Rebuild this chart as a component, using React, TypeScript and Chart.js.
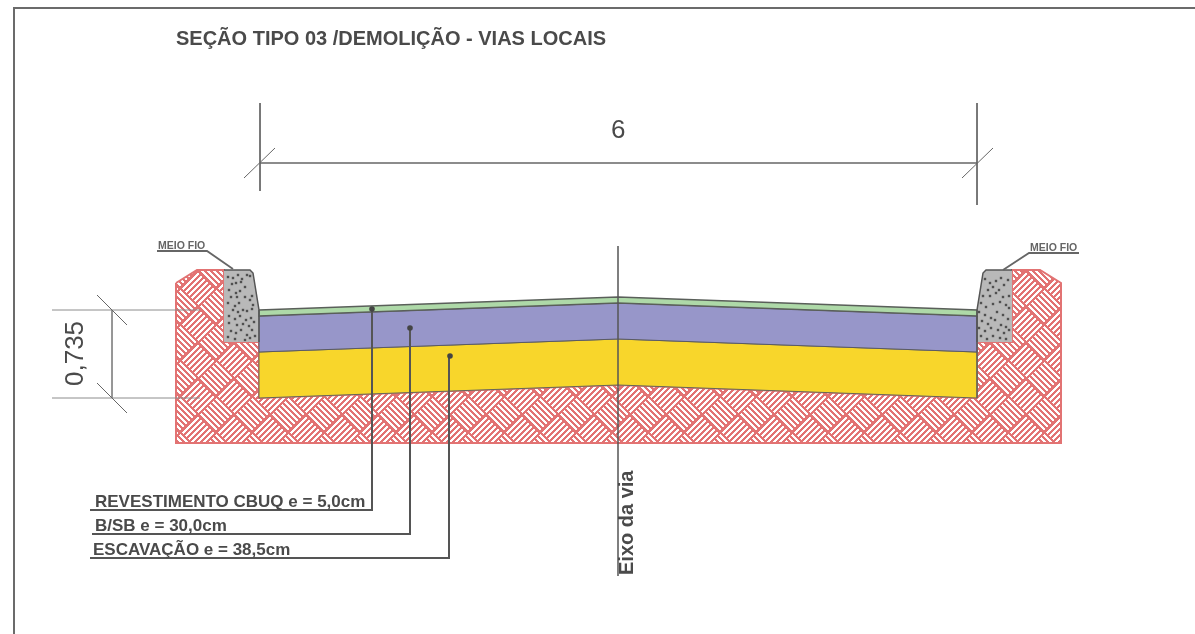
import React, { useEffect, useRef } from "react";
import { Chart, registerables } from "chart.js";

Chart.register(...registerables);

type P = number[];
const W = 1195;
const H = 634;

// outlines of the section (x list, y list)
const frameX: P = [14, 14, 1195];
const frameY: P = [634, 8, 8];
const soilX: P = [176, 197, 224, 224, 259, 259, 618, 977, 977, 1012, 1012, 1040, 1061, 1061, 176, 176];
const soilY: P = [283, 270, 270, 342, 342, 398, 385, 398, 342, 342, 270, 270, 283, 443, 443, 283];
const curbLeftX: P = [224, 250, 253, 259, 259, 224, 224];
const curbLeftY: P = [270, 270, 273, 310, 342, 342, 270];
const curbRightX: P = [1012, 986, 983, 977, 977, 1012, 1012];
const curbRightY: P = [270, 270, 273, 310, 342, 342, 270];
const layerX: P = [259, 618, 977, 977, 618, 259, 259];
const greenY: P = [310, 297, 310, 316, 303, 316, 310];
const purpleY: P = [316, 303, 316, 352, 339, 352, 316];
const yellowY: P = [352, 339, 352, 398, 385, 398, 352];

// concrete specks
const speckX: P = [228,233,238,242,247,250,232,236,241,245,229,236,240,231,237,245,252,228,235,239,243,250,253,233,238,247,252,229,235,240,246,251,229,237,243,249,254,231,236,241,247,252,228,235,245,250,255,
  985,990,996,1001,1008,988,993,999,1004,983,990,996,1003,1009,981,986,993,1000,1006,1009,979,985,991,997,1003,1008,982,988,995,1001,1006,979,985,991,998,1004,1009,981,987,993,1000,1006];
const speckY: P = [277,278,275,279,275,276,284,283,282,287,290,293,291,297,297,297,296,303,306,303,310,300,305,310,312,311,309,316,319,316,320,318,323,325,324,326,322,331,333,330,335,330,337,339,340,338,336,
  279,283,281,278,280,290,287,290,285,296,296,293,297,296,303,307,304,302,305,308,312,315,318,312,315,319,321,324,320,325,327,328,331,328,330,333,330,336,339,336,338,339];

// dimension lines
const dimTopX: P = [260, 977];
const dimTopY: P = [163, 163];
const extLeftX: P = [260, 260];
const extLeftY: P = [103, 191];
const extRightX: P = [977, 977];
const extRightY: P = [103, 205];
const tickTopLX: P = [244, 275];
const tickTopRX: P = [962, 993];
const tickTopY: P = [178, 148];
const dimSideX: P = [112, 112];
const dimSideY: P = [310, 398];
const extUpX: P = [52, 200];
const extUpY: P = [310, 310];
const extLowY: P = [398, 398];
const tickSideX: P = [97, 127];
const tickUpY: P = [295, 325];
const tickLowY: P = [383, 413];

// axis and leaders
const axisX: P = [618, 618];
const axisY: P = [246, 576];
const leaderAX: P = [372, 372, 90];
const leaderAY: P = [309, 510, 510];
const leaderBX: P = [410, 410, 92];
const leaderBY: P = [328, 534, 534];
const leaderCX: P = [449, 449, 90];
const leaderCY: P = [356, 558, 558];
const dotX: P = [372, 410, 450];
const dotY: P = [309, 328, 356];
const meioLeftX: P = [157, 207, 233];
const meioLeftY: P = [251, 251, 269];
const meioRightX: P = [1079, 1029, 1003];
const meioRightY: P = [253, 253, 270];

// texts
const labels = [
  { t: "SEÇÃO TIPO 03 /DEMOLIÇÃO - VIAS LOCAIS", x: 176, y: 45, f: "bold 20px", c: "#4a4a4a" },
  { t: "6", x: 611, y: 138, f: "26px", c: "#4a4a4a" },
  { t: "MEIO FIO", x: 158, y: 249, f: "bold 10.5px", c: "#666" },
  { t: "MEIO FIO", x: 1030, y: 251, f: "bold 10.5px", c: "#666" },
  { t: "REVESTIMENTO CBUQ e = 5,0cm", x: 95, y: 507, f: "bold 17px", c: "#4a4a4a" },
  { t: "B/SB e = 30,0cm", x: 95, y: 531, f: "bold 17px", c: "#4a4a4a" },
  { t: "ESCAVAÇÃO e = 38,5cm", x: 93, y: 555, f: "bold 17px", c: "#4a4a4a" },
];
const rotated = [
  { t: "0,735", x: 83, y: 386, f: "26px", c: "#4a4a4a" },
  { t: "Eixo da via", x: 633, y: 575, f: "bold 20px", c: "#4a4a4a" },
];

const zip = (xs: P, ys: P) => xs.map((x, i) => ({ x, y: ys[i] }));

function weavePattern(ctx: CanvasRenderingContext2D) {
  const size = 72;
  const block = 36;
  const stripes = 6;
  const t = document.createElement("canvas");
  t.width = size;
  t.height = size;
  const c = t.getContext("2d")!;
  const img = c.createImageData(size, size);
  const mod = (a: number, b: number) => ((a % b) + b) % b;
  for (let y = 0; y < size; y++) {
    for (let x = 0; x < size; x++) {
      const u = x + y;
      const v = mod(x - y, size);
      const horizontal = (Math.floor(u / block) + Math.floor(v / block)) % 2 === 0;
      const across = horizontal ? u : v;
      const along = horizontal ? v : u;
      const end = mod(along, block);
      const white = mod(across + 4, stripes) < 3 && end >= 2 && end < block - 2;
      const o = (y * size + x) * 4;
      img.data[o] = white ? 255 : 226;
      img.data[o + 1] = white ? 255 : 115;
      img.data[o + 2] = white ? 255 : 115;
      img.data[o + 3] = 255;
    }
  }
  c.putImageData(img, 0, 0);
  return ctx.createPattern(t, "repeat")!;
}

const textPlugin = {
  id: "drawingText",
  afterDatasetsDraw(chart: any) {
    const { ctx, scales } = chart;
    ctx.save();
    ctx.textBaseline = "alphabetic";
    ctx.textAlign = "left";
    for (const l of labels) {
      ctx.font = `${l.f} "Liberation Sans"`;
      ctx.fillStyle = l.c;
      ctx.fillText(l.t, scales.x.getPixelForValue(l.x), scales.y.getPixelForValue(l.y));
    }
    for (const l of rotated) {
      ctx.save();
      ctx.translate(scales.x.getPixelForValue(l.x), scales.y.getPixelForValue(l.y));
      ctx.rotate(-Math.PI / 2);
      ctx.font = `${l.f} "Liberation Sans"`;
      ctx.fillStyle = l.c;
      ctx.fillText(l.t, 0, 0);
      ctx.restore();
    }
    ctx.restore();
  },
};

export default function App() {
  const ref = useRef<HTMLCanvasElement>(null);
  useEffect(() => {
    document.body.style.margin = "0";
    document.body.style.background = "#fff";
    const canvas = ref.current!;
    const ctx = canvas.getContext("2d")!;
    const line = (xs: P, ys: P, color: string, width = 1) => ({
      data: zip(xs, ys),
      showLine: true,
      borderColor: color,
      borderWidth: width,
      pointRadius: 0,
      fill: false,
      tension: 0,
      clip: false,
    });
    const shape = (xs: P, ys: P, fillC: any, stroke: string, width = 1) => ({
      ...line(xs, ys, stroke, width),
      backgroundColor: fillC,
      fill: "shape",
      borderJoinStyle: "miter",
    });
    const sets: any[] = [
      shape(soilX, soilY, weavePattern(ctx), "#e27373", 2),
      shape(curbLeftX, curbLeftY, "#b9b9b9", "rgba(0,0,0,0)", 1),
      shape(curbRightX, curbRightY, "#b9b9b9", "rgba(0,0,0,0)", 1),
      shape(layerX, yellowY, "#f8d62b", "#66665a", 1),
      shape(layerX, purpleY, "#9796c9", "#5a5a62", 1),
      shape(layerX, greenY, "#aed9a8", "#5a5f5a", 1.5),
      line(curbLeftX.slice(0, 5), curbLeftY.slice(0, 5), "#555", 1.5),
      line(curbRightX.slice(0, 5), curbRightY.slice(0, 5), "#555", 1.5),
      {
        data: zip(speckX, speckY),
        showLine: false,
        pointStyle: "rect",
        pointRadius: 1.7,
        backgroundColor: "#505050",
        borderWidth: 0,
      },
      line(frameX, frameY, "#6b6b6b", 2),
      line(dimTopX, dimTopY, "#666", 1.5),
      line(extLeftX, extLeftY, "#666", 1),
      line(extRightX, extRightY, "#666", 1),
      line(tickTopLX, tickTopY, "#666", 1),
      line(tickTopRX, tickTopY, "#666", 1),
      line(dimSideX, dimSideY, "#888", 1),
      line(extUpX, extUpY, "#8c8c8c", 1),
      line(extUpX, extLowY, "#8c8c8c", 1),
      line(tickSideX, tickUpY, "#666", 1),
      line(tickSideX, tickLowY, "#666", 1),
      line(axisX, axisY, "#555", 1.5),
      line(leaderAX, leaderAY, "#555", 2),
      line(leaderBX, leaderBY, "#555", 2),
      line(leaderCX, leaderCY, "#555", 2),
      line(meioLeftX, meioLeftY, "#666", 1.8),
      line(meioRightX, meioRightY, "#666", 1.8),
      {
        data: zip(dotX, dotY),
        showLine: false,
        pointRadius: 2.8,
        backgroundColor: "#444",
        borderWidth: 0,
      },
    ];
    sets.forEach((s, i) => (s.order = sets.length - i));
    const chart = new Chart(canvas, {
      type: "scatter",
      data: { datasets: sets },
      options: {
        animation: false,
        responsive: false,
        devicePixelRatio: 1,
        layout: { padding: 0, autoPadding: false },
        plugins: { legend: { display: false }, tooltip: { enabled: false }, title: { display: false } },
        scales: {
          x: { type: "linear", min: 0, max: W, display: false },
          y: { type: "linear", min: 0, max: H, reverse: true, display: false },
        },
      },
      plugins: [textPlugin],
    } as any);
    return () => chart.destroy();
  }, []);
  return (
    <div style={{ position: "fixed", left: 0, top: 0, width: W, height: H, background: "#fff" }}>
      <canvas ref={ref} width={W} height={H} style={{ display: "block", width: W, height: H }} />
    </div>
  );
}
